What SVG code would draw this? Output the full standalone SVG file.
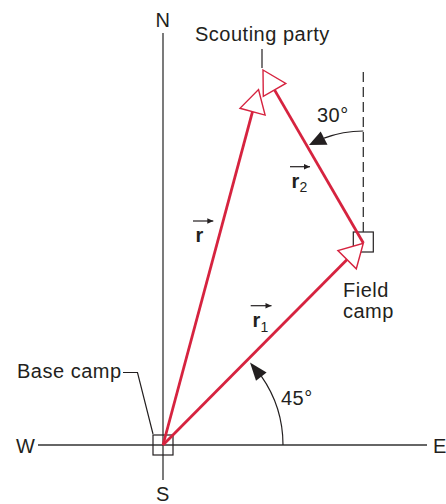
<svg xmlns="http://www.w3.org/2000/svg" width="446" height="504" viewBox="0 0 446 504">
<style>
text{font-family:"Liberation Sans",Arial,Helvetica,sans-serif;fill:#231f20}
.lbl{font-size:20px;letter-spacing:0.5px}
.vec{font-size:20px;font-weight:bold}
.sub{font-size:14px}
.ax{stroke:#333;stroke-width:1.3;fill:none}
.thin{stroke:#231f20;stroke-width:1.2;fill:none}
.red{stroke:#d6233f;stroke-width:2.8;fill:none}
.head{fill:#fff;stroke:#d6233f;stroke-width:1.4;stroke-linejoin:miter}
.blk{fill:#231f20;stroke:none}
</style>
<defs>
<marker id="sa" markerUnits="userSpaceOnUse" markerWidth="8" markerHeight="8" refX="6" refY="4" orient="auto" overflow="visible">
<path d="M0,1.3 L6,4 L0,6.7 Z" fill="#231f20"/>
</marker>
</defs>

<g id="axes">
<line class="ax" x1="163" y1="33" x2="163" y2="480"/>
<line class="ax" x1="38" y1="445" x2="427" y2="445"/>
<text class="lbl" x="163" y="27" text-anchor="middle">N</text>
<text class="lbl" x="163" y="500.5" text-anchor="middle">S</text>
<text class="lbl" x="16" y="453">W</text>
<text class="lbl" x="433" y="453">E</text>
</g>

<g id="base-camp">
<rect x="153" y="435" width="20" height="20" class="thin"/>
<polyline class="thin" points="123,372.5 137.5,372.5 153,434"/>
<text class="lbl" x="17" y="378">Base camp</text>
</g>

<g id="field-camp">
<rect x="353.3" y="232" width="20" height="20" class="thin"/>
<text class="lbl" x="343" y="297">Field</text>
<text class="lbl" x="343" y="318">camp</text>
</g>

<g id="scouting-party">
<line class="thin" x1="262" y1="49" x2="262" y2="68"/>
<text class="lbl" x="195" y="41">Scouting party</text>
</g>

<g id="connectors">
<line x1="363.3" y1="72" x2="363.3" y2="232" stroke="#333" stroke-width="1.3" stroke-dasharray="10 5"/>
<line class="red" x1="163" y1="445" x2="252.5" y2="111.7"/>
<polygon class="head" points="258.5,89.5 265.1,115.1 240,108.3"/>
<line class="red" x1="163" y1="445" x2="347.1" y2="259.6"/>
<polygon class="head" points="363.3,243.3 356.3,268.8 337.9,250.5"/>
<line class="red" x1="363.3" y1="243" x2="274.5" y2="89.9"/>
<polygon class="head" points="263,70 285.8,83.4 263.3,96.4"/>
<path class="thin" d="M283,445 A120,120 0 0 0 261.3,376.2"/>
<polygon class="blk" points="250,362.4 266.6,372.5 256,380.8"/>
<path class="thin" d="M363.3,131 A112,112 0 0 0 324.1,138.1"/>
<polygon class="blk" points="309,145 327.5,144.8 320.7,131.5"/>
</g>

<g id="labels">
<text class="lbl" x="281" y="405">45°</text>
<text class="lbl" x="317" y="122">30°</text>
<line class="thin" x1="193" y1="221" x2="213.3" y2="221" marker-end="url(#sa)"/>
<text class="vec" x="195.5" y="242">r</text>
<line class="thin" x1="250.7" y1="305.7" x2="271.5" y2="305.7" marker-end="url(#sa)"/>
<text class="vec" x="252.5" y="327">r</text>
<text class="sub" x="260.5" y="331.5">1</text>
<line class="thin" x1="290" y1="166.7" x2="310" y2="166.7" marker-end="url(#sa)"/>
<text class="vec" x="291.5" y="187.5">r</text>
<text class="sub" x="299.5" y="192">2</text>
</g>
</svg>
